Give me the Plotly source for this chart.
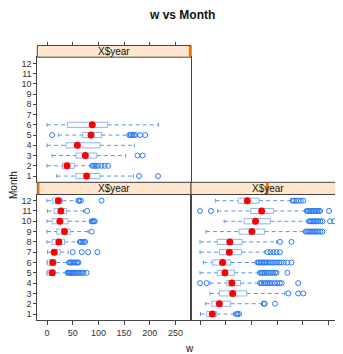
import plotly.graph_objects as go

# ---------------- data ----------------
# Panel "year 1" (bottom-left): months 5..12
months1 = [5, 6, 7, 8, 9, 10, 11, 12]
lo1 = [0, 0, 1, 0, 0, 0, 1, 0]
q1_1 = [0, 0.6, 10, 10, 19, 10, 14, 11]
med1 = [10, 11, 14, 23, 34, 25, 27, 22]
q3_1 = [16, 17.5, 26, 34, 45, 41, 38, 30]
hi1 = [38, 41, 41, 61, 80, 84, 71, 58]
out1 = [
    [40, 42, 44, 46, 48, 50, 52, 55, 58, 61, 64, 67, 71, 77],
    [43, 45, 47, 50, 53, 56, 59, 61],
    [50, 67.5, 80, 98],
    [64, 66, 69, 72, 74],
    [87],
    [87, 89, 91, 93],
    [78],
    [61, 63, 66, 106],
]

# Panel "year 2" (bottom-right): months 1..12
months2 = [1, 2, 3, 4, 5, 6, 7, 8, 9, 10, 11, 12]
lo2 = [1, 11, 19.5, 19.5, 0, 6.5, 0, 0, 11.7, 47, 34, 30.5]
q1_2 = [13, 22.7, 37.6, 52, 33.7, 24, 37.6, 33.7, 76, 86, 98.6, 74.6]
med2 = [24, 37.6, 63.6, 62, 48.6, 44, 57, 58, 101, 108, 120, 92]
q3_2 = [32.5, 59.6, 91, 79, 67, 59.6, 81, 82, 126, 137, 143, 115]
hi2 = [65, 120, 165, 115, 115, 110, 126, 149, 204, 209.5, 205.6, 177]
out2 = [
    [71, 73, 76],
    [124, 126, 146],
    [172, 191, 201],
    [0, 13, 117, 120, 124, 128, 132, 136, 140, 145, 150, 155, 159, 191],
    [117, 120, 123, 126, 130, 134, 138, 142, 146, 149, 170],
    [112, 115, 118, 121, 124, 127, 130, 134, 138, 142, 146, 150, 154, 158, 163, 170, 178],
    [131.6, 137, 143, 149, 155.6],
    [155.6, 178],
    [205.6, 209, 212, 215, 218, 221, 224, 227, 230, 234, 238],
    [212, 215, 218, 221, 224, 227, 230, 234, 238, 253, 261],
    [0, 21.4, 207.5, 210, 213, 216, 219, 222, 225, 228, 231, 233.5, 251],
    [180, 183, 187, 191, 196, 201],
]

# Panel "year 3" (top-left): months 1..6
months3 = [1, 2, 3, 4, 5, 6]
lo3 = [19, 0, 10, 0, 22, 0]
q1_3 = [56, 30, 56, 37, 69, 39.5]
med3 = [77, 39, 74.5, 59, 85.6, 88]
q3_3 = [103, 53, 97, 103, 106, 118]
hi3 = [168, 85.6, 153, 170, 158, 217]
out3 = [
    [179, 216],
    [88, 92, 95, 99, 106, 112, 119],
    [176, 186],
    [],
    [10, 160, 163, 166, 169, 172, 181, 191],
    [],
]

month_ticks = list(range(1, 13))
w_ticks = [0, 50, 100, 150, 200, 250]
strip_label = "X$year"
title = "w vs Month"
xlab = "w"
ylab = "Month"

# ---------------- styling ----------------
PAGE_W = 343
OFF = 8  # default body margin of the html page
W, H = PAGE_W - OFF, 354 - OFF
BOX_COL = "#8CB4EE"
WHISK_COL = "#5B94EE"
OUT_COL = "#2C7BF2"
MED_COL = "#FF0000"
BORDER = "#444444"
STRIP_BG = "#FFE5CC"
STRIP_IND = "#E8740C"
FONT = "Liberation Sans, Arial, sans-serif"
HALF = 0.25
CAP = 0.18


def px_x(p):
    return (p - OFF) / W


def px_y(p):
    return 1 - (p - OFF) / H


LEFT_X0, MID_X, RIGHT_X1 = 37.3, 191.0, 344.7
TOP_B0, TOP_B1 = 57.2, 182.2
BOT_B0, BOT_B1 = 194.5, 320.2
TOP_S0 = 45.5
BOT_S0 = 182.3
PXU = 0.514  # pixels per data unit
left_range = [-18.9, -18.9 + (MID_X - LEFT_X0) / PXU]
right_range = [-17.5, -17.5 + (PAGE_W - MID_X) / PXU]

fig = go.Figure()

panels = [
    ("x", "y", months1, lo1, q1_1, med1, q3_1, hi1, out1),
    ("x2", "y2", months2, lo2, q1_2, med2, q3_2, hi2, out2),
    ("x3", "y3", months3, lo3, q1_3, med3, q3_3, hi3, out3),
]

for xa, ya, ms, lo, q1, md, q3, hi, outs in panels:
    bx, by, wx, wy, cx, cy, ox, oy = [], [], [], [], [], [], [], []
    for m, l, a, b, h, o in zip(ms, lo, q1, q3, hi, outs):
        bx += [a, b, b, a, a, None]
        by += [m - HALF, m - HALF, m + HALF, m + HALF, m - HALF, None]
        wx += [l, a, None, b, h, None]
        wy += [m, m, None, m, m, None]
        cx += [l, l, None, h, h, None]
        cy += [m - CAP, m + CAP, None, m - CAP, m + CAP, None]
        ox += o
        oy += [m] * len(o)
    common = dict(xaxis=xa, yaxis=ya, hoverinfo="skip", showlegend=False)
    fig.add_trace(go.Scatter(x=wx, y=wy, mode="lines",
                             line=dict(color=WHISK_COL, width=1, dash="4px,3px"), **common))
    fig.add_trace(go.Scatter(x=cx, y=cy, mode="lines",
                             line=dict(color=WHISK_COL, width=1), **common))
    fig.add_trace(go.Scatter(x=bx, y=by, mode="lines",
                             line=dict(color=BOX_COL, width=1), **common))
    fig.add_trace(go.Scatter(x=ox, y=oy, mode="markers",
                             marker=dict(symbol="circle-open", size=5, color=OUT_COL,
                                         line=dict(width=1, color=OUT_COL)), **common))
    fig.add_trace(go.Scatter(x=md, y=ms, mode="markers",
                             marker=dict(symbol="circle", size=7, color=MED_COL), **common))

# dummy trace so that the top tick axis is drawn
fig.add_trace(go.Scatter(x=[0], y=[1], xaxis="x4", yaxis="y3", mode="markers",
                         marker=dict(opacity=0), hoverinfo="skip", showlegend=False))

axis_common = dict(showgrid=False, zeroline=False, showline=True, linecolor=BORDER,
                   linewidth=1, tickcolor=BORDER, tickfont=dict(family=FONT, size=9, color="#333333"))

left_dom = [px_x(LEFT_X0), px_x(MID_X)]
right_dom = [px_x(MID_X), 1.0]
top_dom = [px_y(TOP_B1), px_y(TOP_B0)]
bot_dom = [px_y(BOT_B1), px_y(BOT_B0)]

fig.update_layout(
    width=W, height=H,
    margin=dict(l=0, r=0, t=0, b=0),
    paper_bgcolor="white", plot_bgcolor="white",
    showlegend=False,
    xaxis=dict(domain=left_dom, anchor="y", range=left_range, tickvals=w_ticks,
               ticks="outside", ticklen=4, mirror=True, **axis_common),
    yaxis=dict(domain=bot_dom, anchor="x", range=[0.4, 12.6], tickvals=month_ticks,
               ticks="outside", ticklen=3, mirror=True, **axis_common),
    xaxis2=dict(domain=right_dom, anchor="y2", range=right_range, tickvals=w_ticks,
                ticks="outside", ticklen=4, showticklabels=False, mirror=True, **axis_common),
    yaxis2=dict(domain=bot_dom, anchor="x2", range=[0.4, 12.6], tickvals=month_ticks,
                ticks="", showticklabels=False, mirror=False, **axis_common),
    xaxis3=dict(domain=left_dom, anchor="y3", range=left_range, tickvals=w_ticks,
                ticks="", showticklabels=False, mirror=True, **axis_common),
    yaxis3=dict(domain=top_dom, anchor="x3", range=[0.4, 12.6], tickvals=month_ticks,
                ticks="outside", ticklen=3, mirror=True, **axis_common),
    xaxis4=dict(overlaying="x3", anchor="free", position=px_y(TOP_S0), side="top",
                range=left_range, tickvals=w_ticks, ticks="outside", ticklen=4,
                showticklabels=False, showgrid=False, zeroline=False, showline=False,
                tickcolor=BORDER),
)

shapes = []
annotations = []
strips = [
    (LEFT_X0, MID_X, TOP_S0, TOP_B0, MID_X - 2.2, MID_X),          # year 3 -> right end
    (LEFT_X0, MID_X, BOT_S0, BOT_B0, LEFT_X0, LEFT_X0 + 2.2),      # year 1 -> left end
    (MID_X, PAGE_W + 4, BOT_S0, BOT_B0, 266.0, 268.6),             # year 2 -> middle
]
for x0, x1, y0, y1, i0, i1 in strips:
    shapes.append(dict(type="rect", xref="paper", yref="paper",
                       x0=px_x(x0), x1=px_x(x1), y0=px_y(y1), y1=px_y(y0),
                       fillcolor=STRIP_BG, line=dict(color=BORDER, width=1), layer="above"))
    shapes.append(dict(type="rect", xref="paper", yref="paper",
                       x0=px_x(i0), x1=px_x(i1), y0=px_y(y1 - 0.5), y1=px_y(y0 + 0.5),
                       fillcolor=STRIP_IND, line=dict(width=0), layer="above"))
    cxp = (x0 + min(x1, RIGHT_X1)) / 2
    annotations.append(dict(text=strip_label, xref="paper", yref="paper",
                            x=px_x(cxp), y=px_y((y0 + y1) / 2), showarrow=False,
                            xanchor="center", yanchor="middle",
                            font=dict(family=FONT, size=10, color="#111111")))

annotations.append(dict(text="<b>" + title + "</b>", xref="paper", yref="paper",
                        x=px_x(182), y=px_y(15), showarrow=False, xanchor="center",
                        yanchor="middle", font=dict(family=FONT, size=12, color="#111111")))
annotations.append(dict(text=xlab, xref="paper", yref="paper", x=px_x(190), y=px_y(348),
                        showarrow=False, xanchor="center", yanchor="middle",
                        font=dict(family=FONT, size=10, color="#111111")))
annotations.append(dict(text=ylab, xref="paper", yref="paper", x=px_x(13), y=px_y(185),
                        showarrow=False, xanchor="center", yanchor="middle", textangle=-90,
                        font=dict(family=FONT, size=10, color="#111111")))

fig.update_layout(shapes=shapes, annotations=annotations)

fig.write_html("out.html")
